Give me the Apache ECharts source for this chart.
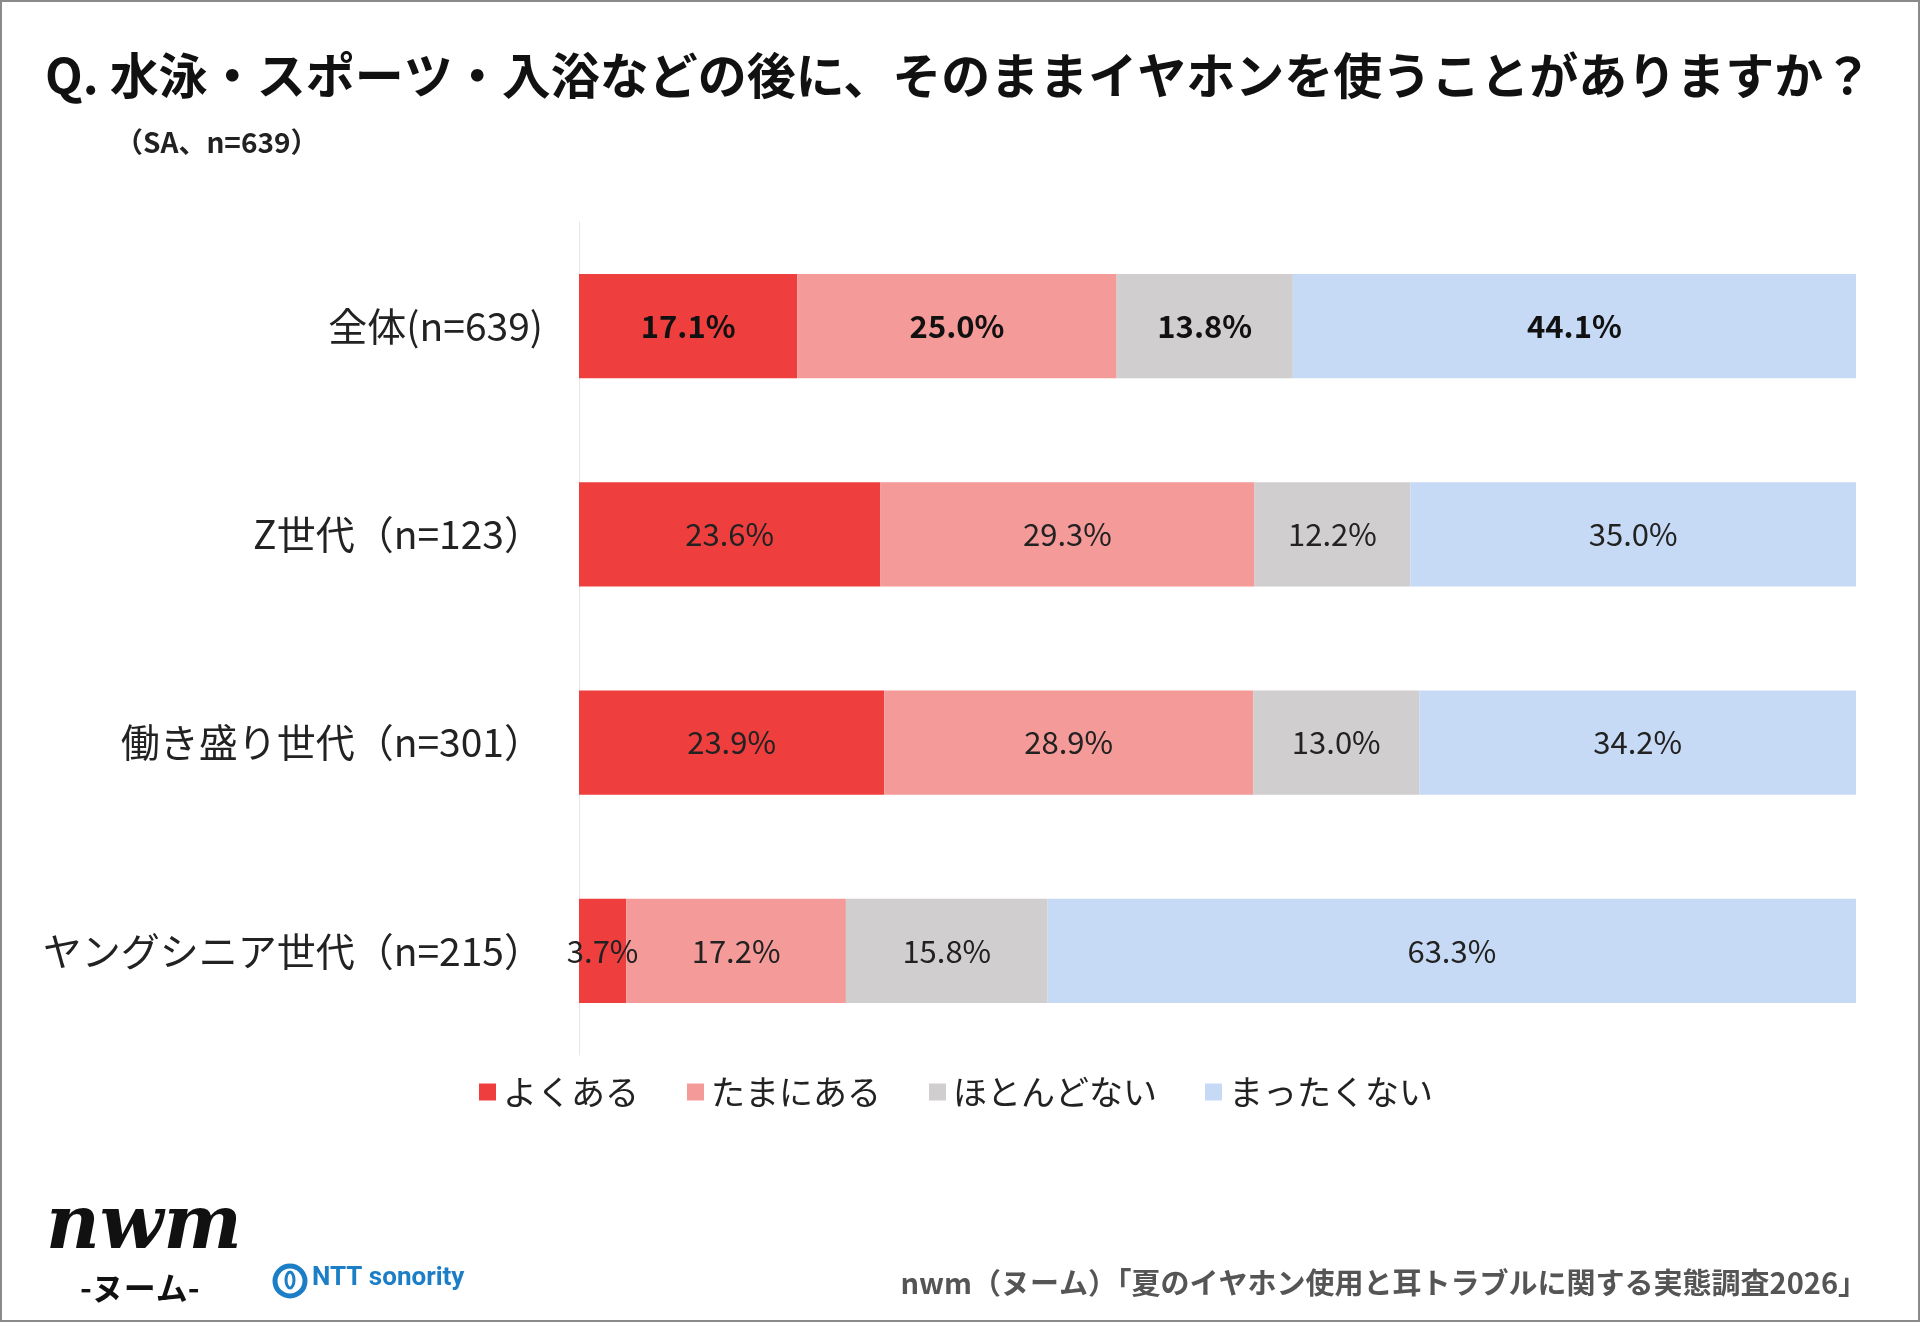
<!DOCTYPE html>
<html>
<head>
<meta charset="utf-8">
<script src="https://cdn.jsdelivr.net/npm/echarts@6/dist/echarts.min.js"></script>
<style>
  html, body { margin: 0; padding: 0; background: #fff; }
  #chart { width: 1920px; height: 1322px; }
</style>
</head>
<body>
<div id="chart"></div>
<script>
const categories = ['全体(n=639)', 'Z世代（n=123）', '働き盛り世代（n=301）', 'ヤングシニア世代（n=215）']
const seriesNames = ['よくある', 'たまにある', 'ほとんどない', 'まったくない']
const often = [17.1, 23.6, 23.9, 3.7]
const sometimes = [25.0, 29.3, 28.9, 17.2]
const rarely = [13.8, 12.2, 13.0, 15.8]
const never = [44.1, 35.0, 34.2, 63.3]
const colors = ['#ee3e3e', '#f49a98', '#d0cecf', '#c6d9f5']

const FONT = '"Noto Sans CJK JP", "Noto Sans", sans-serif'

const myChart = echarts.init(document.getElementById('chart'))

const makeSeries = (name, values, idx) => ({
  name: name,
  type: 'bar',
  stack: 'total',
  barCategoryGap: '50%',
  itemStyle: { color: colors[idx] },
  label: {
    show: true,
    position: 'inside',
    formatter: p => p.value.toFixed(1) + '%',
    fontFamily: FONT,
    fontSize: 31,
    color: '#222'
  },
  emphasis: { disabled: true },
  data: values.map((v, i) => {
    // 全体の行だけ太字
    if (i === 0) {
      return { value: v, label: { fontWeight: 'bold', color: '#111' } }
    }
    return v
  })
})

const option = {
  backgroundColor: '#fff',
  animation: false,
  textStyle: { fontFamily: FONT },
  title: [
    {
      text: 'Q. 水泳・スポーツ・入浴などの後に、そのままイヤホンを使うことがありますか？',
      left: 40,
      top: 46,
      textStyle: { fontFamily: FONT, fontSize: 49, fontWeight: 'bold', color: '#111' }
    },
    {
      text: '（SA、n=639）',
      left: 110,
      top: 123,
      textStyle: { fontFamily: FONT, fontSize: 28, fontWeight: 'bold', color: '#222' }
    },
    {
      text: 'nwm（ヌーム）「夏のイヤホン使用と耳トラブルに関する実態調査2026」',
      right: 48,
      top: 1263,
      textStyle: { fontFamily: FONT, fontSize: 29, fontWeight: 'bold', color: '#555' }
    }
  ],
  legend: {
    left: 474,
    top: 1070,
    itemWidth: 17,
    itemHeight: 17,
    itemGap: 48,
    icon: 'rect',
    textStyle: { fontFamily: FONT, fontSize: 34, color: '#222', padding: [0, 0, 0, 2] },
    data: seriesNames
  },
  grid: {
    left: 579,
    right: 64,
    top: 222,
    bottom: 267,
    containLabel: false
  },
  xAxis: {
    type: 'value',
    min: 0,
    max: 100,
    show: false
  },
  yAxis: {
    type: 'category',
    inverse: true,
    data: categories,
    axisLine: { show: true, lineStyle: { color: '#e6e6e6', width: 1 } },
    axisTick: { show: false },
    axisLabel: {
      margin: 36,
      fontFamily: FONT,
      fontSize: 39,
      color: '#222'
    }
  },
  series: [
    makeSeries(seriesNames[0], often, 0),
    makeSeries(seriesNames[1], sometimes, 1),
    makeSeries(seriesNames[2], rarely, 2),
    makeSeries(seriesNames[3], never, 3)
  ],
  graphic: [
    {
      type: 'rect',
      shape: { x: 1, y: 1, width: 1918, height: 1320 },
      style: { fill: 'none', stroke: '#8a8a8a', lineWidth: 2 },
      silent: true
    },
    {
      type: 'text',
      left: 46,
      top: 1192,
      style: {
        text: 'nwm',
        font: 'italic bold 74px "DejaVu Serif", serif',
        fill: '#111'
      }
    },
    {
      type: 'text',
      left: 80,
      top: 1272,
      style: {
        text: '-ヌーム-',
        font: 'bold 32px "Noto Sans CJK JP", sans-serif',
        fill: '#111'
      }
    },
    {
      type: 'circle',
      shape: { cx: 290, cy: 1281, r: 15 },
      style: { fill: 'none', stroke: '#1b7ec6', lineWidth: 5 }
    },
    {
      type: 'ellipse',
      shape: { cx: 290, cy: 1280, rx: 4, ry: 8 },
      style: { fill: 'none', stroke: '#1b7ec6', lineWidth: 3 }
    },
    {
      type: 'text',
      left: 312,
      top: 1265,
      style: {
        text: 'NTT sonority',
        font: 'bold 26px "Roboto", "Noto Sans", sans-serif',
        fill: '#1b7ec6'
      }
    }
  ]
}

myChart.setOption(option)
</script>
</body>
</html>
